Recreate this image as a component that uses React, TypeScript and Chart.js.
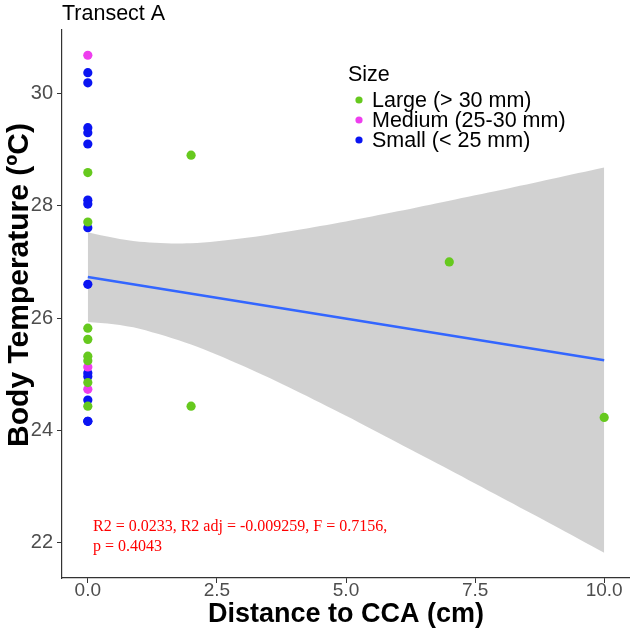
import React, { useEffect, useRef } from "react";
import { Chart, registerables } from "chart.js";

Chart.register(...registerables);

// Observed points: distance to CCA (cm) and body temperature (ºC)
const largeX = [0, 0, 0, 0, 0, 0, 0, 0, 2, 2, 7, 10];
const largeY = [28.59, 27.71, 25.82, 25.62, 25.32, 25.24, 24.85, 24.43, 28.9, 24.43, 27.0, 24.23];
const mediumX = [0, 0, 0];
const mediumY = [30.68, 25.13, 24.73];
const smallX = [0, 0, 0, 0, 0, 0, 0, 0, 0, 0, 0, 0, 0, 0];
const smallY = [30.37, 30.19, 29.39, 29.3, 29.1, 28.1, 28.03, 27.61, 26.6, 25.02, 24.96, 24.54, 24.16, 24.16];

// Fitted line and confidence band
const fitX = [0, 10];
const fitY = [26.73, 25.25];
const bandX = [0, 0.5, 1, 2, 3, 4, 5, 6, 7, 8, 9, 10];
const bandUpper = [27.53, 27.43, 27.36, 27.33, 27.42, 27.56, 27.72, 27.9, 28.09, 28.28, 28.48, 28.68];
const bandLower = [25.93, 25.89, 25.81, 25.53, 25.15, 24.72, 24.26, 23.78, 23.3, 22.81, 22.32, 21.82];

const xTicks = [0, 2.5, 5, 7.5, 10];
const yTicks = [22, 24, 26, 28, 30];

const legendLabels = ["Large (> 30 mm)", "Medium (25-30 mm)", "Small (< 25 mm)"];
const colors = ["#66C91E", "#EE3EEE", "#0A14F2"];
const statLines = ["R2 = 0.0233, R2 adj = -0.009259, F = 0.7156,", "p = 0.4043"];

const SANS = "'Liberation Sans', Arial, sans-serif";

const pts = (xs: number[], ys: number[]) => xs.map((x, i) => ({ x, y: ys[i] }));

const overlayPlugin = {
  id: "overlay",
  afterDraw(chart: any) {
    const ctx = chart.ctx;
    const area = chart.chartArea;
    ctx.save();
    // title
    ctx.fillStyle = "#000";
    ctx.font = `21.5px ${SANS}`;
    ctx.textBaseline = "middle";
    ctx.textAlign = "left";
    ctx.fillText("Transect A", area.left, 14);
    // legend
    ctx.fillText("Size", 348, 75);
    legendLabels.forEach((lab, i) => {
      const y = 100 + i * 20;
      ctx.fillStyle = colors[i];
      ctx.beginPath();
      ctx.arc(359, y, 3.6, 0, Math.PI * 2);
      ctx.fill();
      ctx.fillStyle = "#000";
      ctx.fillText(lab, 372, y + 1);
    });
    // y axis title
    ctx.save();
    ctx.translate(20, 285);
    ctx.rotate(-Math.PI / 2);
    ctx.textAlign = "center";
    ctx.font = `bold 30px ${SANS}`;
    ctx.fillText("Body Temperature (ºC)", 0, 0);
    ctx.restore();
    // statistics annotation
    const xs = chart.scales.x;
    const ys = chart.scales.y;
    ctx.fillStyle = "#FF0000";
    ctx.font = "16px 'Liberation Serif', 'Times New Roman', serif";
    const tx = xs.getPixelForValue(0.1);
    const ty = ys.getPixelForValue(22.15) - 7;
    statLines.forEach((s, i) => {
      ctx.fillText(s, tx, ty + i * 19.5);
    });
    ctx.restore();
  },
};

export default function App() {
  const ref = useRef<HTMLCanvasElement | null>(null);
  useEffect(() => {
    document.body.style.margin = "0";
    const canvas = ref.current!;
    const tickColor = "#4D4D4D";
    const chart = new Chart(canvas, {
      type: "scatter",
      data: {
        datasets: [
          {
            label: legendLabels[0],
            data: pts(largeX, largeY),
            backgroundColor: colors[0],
            borderColor: colors[0],
            pointRadius: 4.6,
            borderWidth: 0,
          },
          {
            label: legendLabels[1],
            data: pts(mediumX, mediumY),
            backgroundColor: colors[1],
            borderColor: colors[1],
            pointRadius: 4.6,
            borderWidth: 0,
          },
          {
            label: legendLabels[2],
            data: pts(smallX, smallY),
            backgroundColor: colors[2],
            borderColor: colors[2],
            pointRadius: 4.6,
            borderWidth: 0,
          },
          {
            type: "line",
            label: "fit",
            data: pts(fitX, fitY),
            borderColor: "#3366FF",
            borderWidth: 2.5,
            pointRadius: 0,
            fill: false,
          } as any,
          {
            type: "line",
            label: "upper",
            data: pts(bandX, bandUpper),
            borderWidth: 0,
            borderColor: "rgba(0,0,0,0)",
            backgroundColor: "rgba(153,153,153,0.45)",
            pointRadius: 0,
            tension: 0.3,
            fill: "+1",
          } as any,
          {
            type: "line",
            label: "lower",
            data: pts(bandX, bandLower),
            borderWidth: 0,
            borderColor: "rgba(0,0,0,0)",
            pointRadius: 0,
            tension: 0.3,
            fill: false,
          } as any,
        ],
      },
      options: {
        animation: false,
        responsive: false,
        layout: { autoPadding: false, padding: { top: 30, right: 0, left: 0, bottom: 0 } },
        plugins: { legend: { display: false }, tooltip: { enabled: false } },
        scales: {
          x: {
            type: "linear",
            min: -0.5,
            max: 10.5,
            afterBuildTicks: (s: any) => {
              s.ticks = xTicks.map((v) => ({ value: v }));
            },
            afterFit: (s: any) => {
              s.height = 56;
              s.paddingLeft = 0;
              s.paddingRight = 0;
            },
            ticks: {
              color: tickColor,
              font: { size: 19, family: SANS },
              padding: -4,
              callback: (v: any) => Number(v).toFixed(1),
              maxRotation: 0,
              autoSkip: false,
            },
            grid: { drawOnChartArea: false, drawTicks: true, tickLength: 5, color: "#333" },
            border: { display: true, color: "#333", width: 1.2 },
            title: {
              display: true,
              text: "Distance to CCA (cm)",
              color: "#000",
              font: { size: 27, weight: "bold", family: SANS },
              padding: { top: 0, bottom: 3 },
            },
          },
          y: {
            type: "linear",
            min: 21.37,
            max: 31.13,
            afterBuildTicks: (s: any) => {
              s.ticks = yTicks.map((v) => ({ value: v }));
            },
            afterFit: (s: any) => {
              s.width = 62;
            },
            ticks: {
              color: tickColor,
              font: { size: 20, family: SANS },
              padding: 4,
            },
            grid: { drawOnChartArea: false, drawTicks: true, tickLength: 5, color: "#333" },
            border: { display: true, color: "#333", width: 1.2 },
            title: { display: false },
          },
        },
      },
      plugins: [overlayPlugin],
    } as any);
    return () => chart.destroy();
  }, []);
  return <canvas ref={ref} width={630} height={634} style={{ display: "block" }} />;
}
